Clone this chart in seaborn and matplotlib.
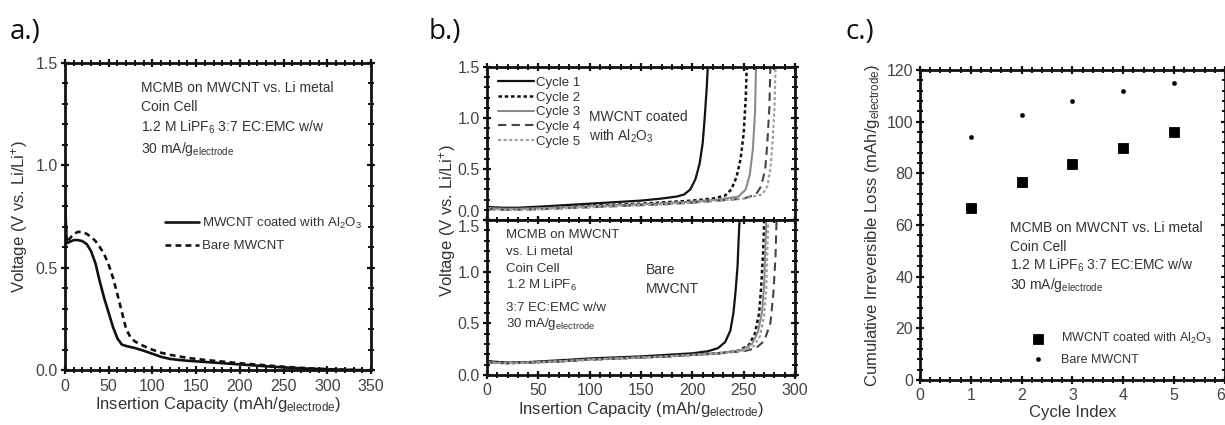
import numpy as np
import pandas as pd
import matplotlib
matplotlib.use("Agg")
import matplotlib.pyplot as plt
from matplotlib.ticker import MultipleLocator
import seaborn as sns

# ---------------- data ----------------
# panel a
cap_a_coated = [0, 2, 5, 10, 15, 20, 25, 30, 35, 40, 45, 50, 55, 60, 65, 70, 80, 90, 100,
                110, 120, 130, 140, 160, 180, 200, 220, 240, 260, 280, 300, 320, 340]
volt_a_coated = [0.85, 0.62, 0.625, 0.635, 0.635, 0.63, 0.615, 0.58, 0.52, 0.43, 0.35, 0.28,
                 0.21, 0.155, 0.125, 0.118, 0.108, 0.095, 0.08, 0.065, 0.055, 0.05, 0.046,
                 0.04, 0.034, 0.028, 0.022, 0.016, 0.011, 0.007, 0.004, 0.002, 0.0]
cap_a_bare = [0, 2, 5, 10, 15, 20, 25, 30, 35, 40, 45, 50, 55, 60, 65, 70, 75, 80, 90, 100,
              110, 120, 140, 160, 180, 200, 220, 240, 260, 280, 300, 320, 340]
volt_a_bare = [0.8, 0.62, 0.64, 0.665, 0.675, 0.675, 0.665, 0.65, 0.63, 0.6, 0.565, 0.515,
               0.45, 0.37, 0.285, 0.2, 0.16, 0.14, 0.118, 0.1, 0.085, 0.075, 0.06, 0.05,
               0.042, 0.034, 0.027, 0.02, 0.014, 0.009, 0.005, 0.002, 0.0]

# panel b, top (MWCNT coated with Al2O3)
cap_top_c1 = [0, 5, 15, 30, 50, 75, 100, 125, 150, 170, 185, 192, 198, 203, 207, 210, 212, 214, 215]
volt_top_c1 = [0.13, 0.125, 0.12, 0.12, 0.13, 0.145, 0.16, 0.175, 0.19, 0.21, 0.23, 0.25, 0.3,
               0.4, 0.55, 0.75, 1.0, 1.3, 1.5]
cap_top_c2 = [0, 5, 15, 30, 50, 75, 100, 125, 150, 175, 200, 220, 232, 238, 243, 247, 250, 252, 253]
volt_top_c2 = [0.12, 0.115, 0.11, 0.11, 0.12, 0.13, 0.14, 0.15, 0.16, 0.175, 0.19, 0.21, 0.24,
               0.3, 0.42, 0.6, 0.85, 1.2, 1.5]
cap_top_c3 = [0, 5, 15, 30, 50, 75, 100, 125, 150, 175, 200, 225, 245, 252, 256, 259, 261, 262]
volt_top_c3 = [0.12, 0.115, 0.11, 0.11, 0.115, 0.125, 0.135, 0.145, 0.155, 0.165, 0.18, 0.2,
               0.23, 0.3, 0.45, 0.7, 1.05, 1.5]
cap_top_c4 = [0, 5, 15, 30, 50, 75, 100, 125, 150, 175, 200, 225, 250, 262, 267, 271, 273, 275, 276]
volt_top_c4 = [0.11, 0.105, 0.1, 0.1, 0.105, 0.115, 0.125, 0.135, 0.145, 0.155, 0.17, 0.19,
               0.21, 0.25, 0.33, 0.5, 0.75, 1.1, 1.5]
cap_top_c5 = [0, 5, 15, 30, 50, 75, 100, 125, 150, 175, 200, 225, 250, 268, 273, 276, 278, 280, 281]
volt_top_c5 = [0.11, 0.105, 0.1, 0.1, 0.105, 0.115, 0.125, 0.135, 0.145, 0.155, 0.17, 0.19,
               0.21, 0.25, 0.33, 0.5, 0.75, 1.1, 1.5]

# panel b, bottom (bare MWCNT)
cap_bot_c1 = [0, 5, 20, 40, 75, 100, 125, 150, 175, 200, 215, 225, 232, 237, 240, 242, 244, 245, 246]
volt_bot_c1 = [0.14, 0.13, 0.12, 0.125, 0.145, 0.16, 0.17, 0.18, 0.195, 0.21, 0.23, 0.26,
               0.32, 0.43, 0.6, 0.8, 1.05, 1.3, 1.5]
cap_bot_c2 = [0, 5, 20, 40, 75, 100, 125, 150, 175, 200, 225, 245, 255, 261, 265, 267, 269, 270]
volt_bot_c2 = [0.13, 0.12, 0.115, 0.12, 0.135, 0.15, 0.16, 0.17, 0.18, 0.195, 0.21, 0.235,
               0.29, 0.4, 0.6, 0.85, 1.2, 1.5]
cap_bot_c3 = [0, 5, 20, 40, 75, 100, 125, 150, 175, 200, 225, 248, 258, 264, 268, 270, 271, 272]
volt_bot_c3 = [0.13, 0.12, 0.115, 0.12, 0.135, 0.15, 0.16, 0.17, 0.18, 0.195, 0.21, 0.24,
               0.3, 0.42, 0.62, 0.9, 1.2, 1.5]
cap_bot_c4 = [0, 5, 20, 40, 75, 100, 125, 150, 175, 200, 225, 250, 262, 270, 276, 279, 281, 282]
volt_bot_c4 = [0.13, 0.12, 0.115, 0.12, 0.135, 0.15, 0.16, 0.17, 0.18, 0.195, 0.21, 0.23,
               0.26, 0.33, 0.5, 0.8, 1.15, 1.5]
cap_bot_c5 = [0, 5, 20, 40, 75, 100, 125, 150, 175, 200, 225, 250, 260, 266, 270, 272, 273, 274]
volt_bot_c5 = [0.13, 0.12, 0.115, 0.12, 0.135, 0.15, 0.16, 0.17, 0.18, 0.195, 0.21, 0.235,
               0.28, 0.38, 0.58, 0.85, 1.2, 1.5]

# panel c
cycle_index = [1, 2, 3, 4, 5]
loss_coated = [66.5, 76.5, 83.5, 90, 96]
loss_bare = [94, 102.5, 108, 112, 115]

cycle_labels = ["Cycle 1", "Cycle 2", "Cycle 3", "Cycle 4", "Cycle 5"]

# ---------------- style ----------------
sns.set_style("ticks")
plt.rcParams["font.family"] = ["Liberation Sans", "DejaVu Sans"]
plt.rcParams["mathtext.fontset"] = "custom"
plt.rcParams["mathtext.rm"] = "Liberation Sans"
plt.rcParams["mathtext.it"] = "Liberation Sans"
TXT = "#333333"
TICKC = "#444444"

fig = plt.figure(figsize=(12.25, 4.25), dpi=100)

def style_axis(ax, xmaj, xmin, ymaj, ymin, xlim, ylim, labelbottom=True):
    ax.set_xlim(*xlim)
    ax.set_ylim(*ylim)
    ax.xaxis.set_major_locator(MultipleLocator(xmaj))
    ax.xaxis.set_minor_locator(MultipleLocator(xmin))
    ax.yaxis.set_major_locator(MultipleLocator(ymaj))
    ax.yaxis.set_minor_locator(MultipleLocator(ymin))
    ax.tick_params(which="both", direction="inout", top=True, right=True,
                   colors="#111111", labelcolor=TICKC, labelsize=11.5)
    ax.tick_params(which="major", length=6, width=1.6)
    ax.tick_params(which="minor", length=4, width=1.4)
    ax.tick_params(axis="x", labelbottom=labelbottom, pad=3)
    ax.tick_params(axis="y", pad=2)
    for s in ax.spines.values():
        s.set_linewidth(2.0)
        s.set_color("#111111")
        s.set_visible(True)
    ax.set_xlabel("")
    ax.set_ylabel("")

sub = r"$_{\mathrm{electrode}}$"

# ---------------- panel a ----------------
axa = fig.add_axes([0.053, 0.129, 0.250, 0.723])
dfa1 = pd.DataFrame({"cap": cap_a_coated, "v": volt_a_coated})
dfa2 = pd.DataFrame({"cap": cap_a_bare, "v": volt_a_bare})
sns.lineplot(data=dfa1, x="cap", y="v", ax=axa, color="#111111", lw=1.9, sort=False,
             estimator=None, label=r"MWCNT coated with Al$_2$O$_3$")
sns.lineplot(data=dfa2, x="cap", y="v", ax=axa, color="#111111", lw=1.9, sort=False,
             estimator=None, linestyle=(0, (2.2, 1.6)), label="Bare MWCNT")
style_axis(axa, 50, 10, 0.5, 0.1, (0, 350), (0, 1.5))
axa.set_yticks([0, 0.5, 1.0, 1.5])
axa.set_yticklabels(["0.0", "0.5", "1.0", "1.5"])
axa.set_xlabel("Insertion Capacity (mAh/g" + sub + ")", fontsize=12, color=TXT, labelpad=1)
axa.set_ylabel(r"Voltage (V vs. Li/Li$^{+}$)", fontsize=12, color=TXT, labelpad=4)
leg = axa.legend(loc="upper left", bbox_to_anchor=(0.31, 0.52), frameon=False, fontsize=9.5,
                 handlelength=2.6, handletextpad=0.2, labelspacing=0.7, borderaxespad=0)
for t in leg.get_texts():
    t.set_color(TXT)
for i, line in enumerate(["MCMB on MWCNT vs. Li metal", "Coin Cell",
                          r"1.2 M LiPF$_6$ 3:7 EC:EMC w/w"]):
    axa.text(0.25, 0.94 - i * 0.06, line, transform=axa.transAxes, fontsize=10,
             color=TXT, va="top")
axa.text(0.25, 0.75, "30 mA/g" + sub, transform=axa.transAxes, fontsize=10, color=TXT, va="top")

# ---------------- panel b ----------------
axt = fig.add_axes([0.3976, 0.4824, 0.2514, 0.3600])
axb = fig.add_axes([0.3976, 0.1176, 0.2514, 0.3648])
styles = [dict(color="#111111", linestyle="-", lw=1.6),
          dict(color="#111111", linestyle=(0, (1.4, 1.1)), lw=1.8),
          dict(color="#8a8a8a", linestyle="-", lw=1.5),
          dict(color="#444444", linestyle=(0, (4, 2.5)), lw=1.5),
          dict(color="#a0a0a0", linestyle=(0, (1.4, 1.1)), lw=1.6)]
top_caps = [cap_top_c1, cap_top_c2, cap_top_c3, cap_top_c4, cap_top_c5]
top_volts = [volt_top_c1, volt_top_c2, volt_top_c3, volt_top_c4, volt_top_c5]
bot_caps = [cap_bot_c1, cap_bot_c2, cap_bot_c3, cap_bot_c4, cap_bot_c5]
bot_volts = [volt_bot_c1, volt_bot_c2, volt_bot_c3, volt_bot_c4, volt_bot_c5]
for i in range(5):
    d = pd.DataFrame({"cap": top_caps[i], "v": top_volts[i]})
    sns.lineplot(data=d, x="cap", y="v", ax=axt, sort=False, estimator=None,
                 label=cycle_labels[i], **styles[i])
    d = pd.DataFrame({"cap": bot_caps[i], "v": bot_volts[i]})
    sns.lineplot(data=d, x="cap", y="v", ax=axb, sort=False, estimator=None,
                 legend=False, **styles[i])
style_axis(axt, 50, 10, 0.5, 0.1, (0, 300), (0, 1.5), labelbottom=False)
style_axis(axb, 50, 10, 0.5, 0.1, (0, 300), (0, 1.5))
for ax in (axt, axb):
    ax.set_yticks([0, 0.5, 1.0, 1.5])
    ax.set_yticklabels(["0.0", "0.5", "1.0", "1.5"])
axt.get_yticklabels()[0].set_va("bottom")
axb.get_yticklabels()[-1].set_va("top")
axb.set_xlabel("Insertion Capacity (mAh/g" + sub + ")", fontsize=12, color=TXT, labelpad=1)
fig.text(0.365, 0.48, r"Voltage (V vs. Li/Li$^{+}$)", rotation=90, fontsize=12,
         color=TXT, ha="center", va="center")
leg = axt.legend(loc="upper left", bbox_to_anchor=(0.02, 0.97), frameon=False, fontsize=9.5,
                 handlelength=2.7, handletextpad=0.15, labelspacing=0.18, borderaxespad=0)
for t in leg.get_texts():
    t.set_color(TXT)
axt.text(0.33, 0.67, "MWCNT coated", transform=axt.transAxes, fontsize=10, color=TXT, va="center")
axt.text(0.33, 0.55, r"with Al$_2$O$_3$", transform=axt.transAxes, fontsize=10, color=TXT, va="center")
for i, line in enumerate(["MCMB on MWCNT", "vs. Li metal", "Coin Cell", r"1.2 M LiPF$_6$"]):
    axb.text(0.06, 0.90 - i * 0.107, line, transform=axb.transAxes, fontsize=9.5,
             color=TXT, va="center")
axb.text(0.06, 0.43, "3:7 EC:EMC w/w", transform=axb.transAxes, fontsize=9.5, color=TXT, va="center")
axb.text(0.06, 0.33, "30 mA/g" + sub, transform=axb.transAxes, fontsize=9.5, color=TXT, va="center")
axb.text(0.515, 0.675, "Bare", transform=axb.transAxes, fontsize=10, color=TXT, va="center")
axb.text(0.515, 0.555, "MWCNT", transform=axb.transAxes, fontsize=10, color=TXT, va="center")

# ---------------- panel c ----------------
axc = fig.add_axes([0.751, 0.106, 0.249, 0.729])
dfc1 = pd.DataFrame({"cycle": cycle_index, "loss": loss_coated})
dfc2 = pd.DataFrame({"cycle": cycle_index, "loss": loss_bare})
sns.scatterplot(data=dfc1, x="cycle", y="loss", ax=axc, marker="s", s=55, color="#000000",
                edgecolor="#000000", label=r"MWCNT coated with Al$_2$O$_3$")
sns.scatterplot(data=dfc2, x="cycle", y="loss", ax=axc, marker="o", s=10, color="#000000",
                edgecolor="#000000", label="Bare MWCNT")
style_axis(axc, 1, 0.2, 20, 4, (0, 6), (0, 120))
axc.set_xticks([0, 1, 2, 3, 4, 5, 6])
axc.set_xticklabels(["0", "1", "2", "3", "4", "5", "6"])
axc.get_xticklabels()[-1].set_ha("right")
axc.set_xlabel("Cycle Index", fontsize=12, color=TXT, labelpad=1)
axc.set_ylabel("Cumulative Irreversible Loss (mAh/g" + sub + ")", fontsize=12, color=TXT, labelpad=3)
leg = axc.legend(loc="lower left", bbox_to_anchor=(0.33, 0.03), frameon=False, fontsize=9,
                 handletextpad=0.8, labelspacing=0.6, borderaxespad=0, markerscale=1.0)
for t in leg.get_texts():
    t.set_color(TXT)
for i, line in enumerate(["MCMB on MWCNT vs. Li metal", "Coin Cell",
                          r"1.2 M LiPF$_6$ 3:7 EC:EMC w/w"]):
    axc.text(0.295, 0.49 - i * 0.06, line, transform=axc.transAxes, fontsize=10,
             color=TXT, va="center")
axc.text(0.295, 0.305, "30 mA/g" + sub, transform=axc.transAxes, fontsize=10, color=TXT, va="center")

# ---------------- panel letters ----------------
for x, lab in [(0.008, "a.)"), (0.350, "b.)"), (0.690, "c.)")]:
    fig.text(x, 0.925, lab, fontsize=20, color="#111111", family=["Open Sans", "DejaVu Sans"],
             va="center")

fig.savefig("out.png", dpi=100)
